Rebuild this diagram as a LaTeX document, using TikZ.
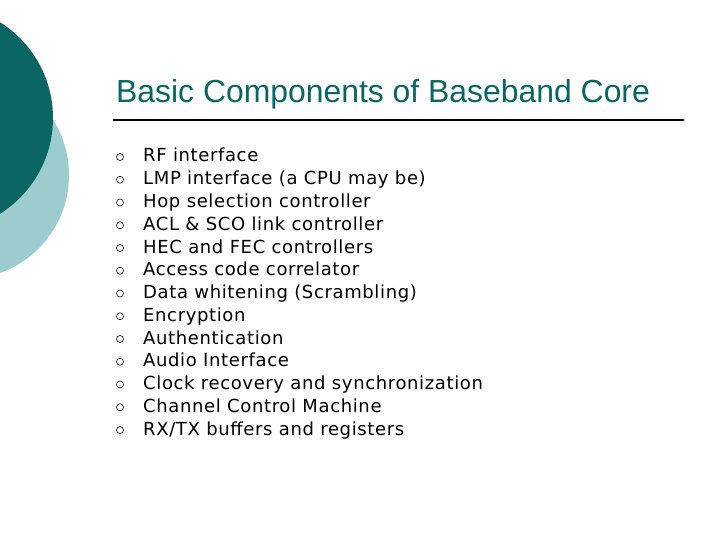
\documentclass[tikz,border=0pt]{standalone}
\usepackage{fontspec}
\setmainfont{DejaVu Sans}[LetterSpace=3.5]
\newfontfamily\titlefont{Liberation Sans}
\definecolor{darkteal}{HTML}{0B6663}
\definecolor{lightteal}{HTML}{9CCCCD}
\begin{document}
\begin{tikzpicture}[x=1pt,y=-1pt,
  item/.style={anchor=base west,inner sep=0pt,font=\fontsize{18}{21}\selectfont},
  bul/.style={circle,draw=black,line width=0.6pt,minimum size=7pt,inner sep=0pt}]
\useasboundingbox (0,0) rectangle (720,540);
\clip (0,0) rectangle (720,540);
\fill[lightteal] (-35,175) circle (104);
\fill[darkteal] (-60,118) circle (113);
\node[anchor=base west,inner sep=0pt,text=darkteal,font=\titlefont\fontsize{31.9}{36}\selectfont] (title) at (116,103) {Basic Components of Baseband Core};
\draw[line width=1.5pt] (113,120) coordinate (l1) -- (684,120) coordinate (l2);
\foreach \t [count=\i] in {RF interface,LMP interface (a CPU may be),Hop selection controller,ACL \& SCO link controller,HEC and FEC controllers,Access code correlator,Data whitening (Scrambling),Encryption,Authentication,Audio Interface,Clock recovery and synchronization,Channel Control Machine,RX/TX buffers and registers}{
  \pgfmathsetmacro{\yy}{162+(\i-1)*22.75}
  \node[bul] (b\i) at (120,\yy-5) {};
  \node[item] (t\i) at (143,\yy) {\t};
}
\end{tikzpicture}
\end{document}
